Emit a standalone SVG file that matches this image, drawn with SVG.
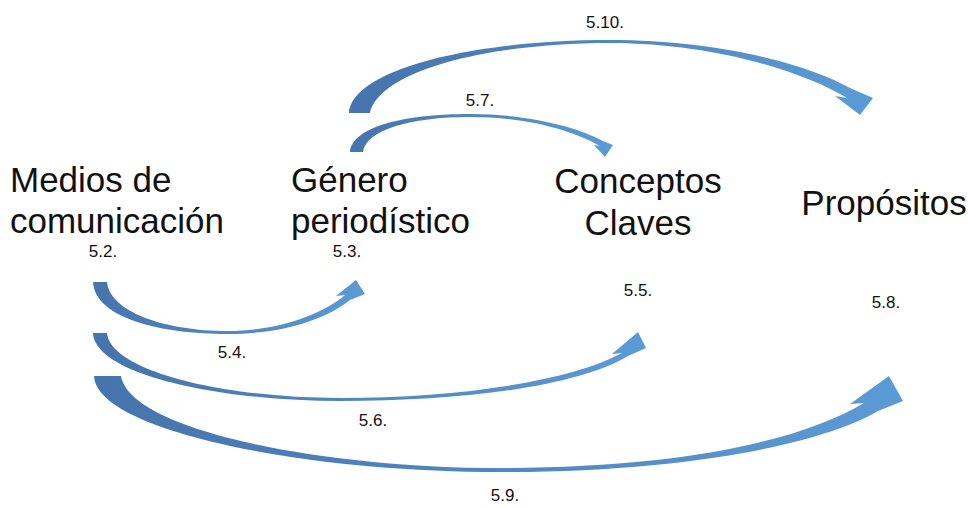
<svg xmlns="http://www.w3.org/2000/svg" width="968" height="508" viewBox="0 0 968 508">
<style>
.big{font-family:"Liberation Sans",Arial,sans-serif;font-size:35px;fill:#111}
.num{font-family:"Liberation Sans",Arial,sans-serif;font-size:17px;fill:#111;text-anchor:middle}
.arr{fill:url(#g)}
</style>
<defs>
<linearGradient id="g" x1="0" y1="0" x2="1" y2="0">
<stop offset="0" stop-color="#4674ac"/>
<stop offset="1" stop-color="#5b9bd5"/>
</linearGradient>
</defs>
<rect width="968" height="508" fill="#fff"/>
<g id="connectors">
<path id="a54" class="arr" d="M 93 282 C 95 318, 160 334, 228 334 C 285 334, 328 318, 350 300 L 365 294 L 356 280 L 336 296 L 345 295 C 320 316, 275 331, 228 331 C 165 331, 110 312, 107 282 Z"/>
<path id="a56" class="arr" d="M 93 333 C 95 375, 220 401, 340 401 C 470 401, 580 385, 628 356 L 646 348 L 638 332 L 612 354 L 622 353 C 570 381, 460 398, 340 398 C 220 398, 110 370, 107 333 Z"/>
<path id="a59" class="arr" d="M 94 376 C 96 430, 300 472, 500 472 C 700 472, 830 440, 878 411 L 903 401 L 889 376 L 850 404 L 864 403 C 800 441, 680 468, 500 468 C 320 468, 130 430, 121 376 Z"/>
<path id="a57" class="arr" d="M 350 152 C 352 128, 400 114, 470 114 C 530 114, 580 128, 603 141 L 613 145 L 605 157 L 594 145 L 600 146 C 575 132, 530 117, 470 117 C 410 117, 366 130, 363 152 Z"/>
<path id="a510" class="arr" d="M 349 113 C 352 70, 470 40, 610 40 C 720 40, 810 65, 850 88 L 873 98 L 860 115 L 835 96 L 847 98 C 800 70, 710 43, 610 43 C 490 43, 380 70, 370 113 Z"/>
</g>
<g id="medios">
<text class="big" x="10" y="192">Medios de</text>
<text class="big" x="10" y="233">comunicación</text>
<text class="num" x="103" y="257">5.2.</text>
</g>
<g id="genero">
<text class="big" x="291" y="192">Género</text>
<text class="big" x="291" y="233">periodístico</text>
<text class="num" x="347" y="257">5.3.</text>
</g>
<g id="conceptos">
<text class="big" x="638" y="193" text-anchor="middle">Conceptos</text>
<text class="big" x="638" y="235" text-anchor="middle">Claves</text>
<text class="num" x="638" y="296">5.5.</text>
</g>
<g id="propositos">
<text class="big" x="884" y="215" text-anchor="middle">Propósitos</text>
<text class="num" x="886" y="308">5.8.</text>
</g>
<g id="labels">
<text class="num" x="605" y="28">5.10.</text>
<text class="num" x="480" y="106">5.7.</text>
<text class="num" x="232" y="358">5.4.</text>
<text class="num" x="373" y="426">5.6.</text>
<text class="num" x="505" y="501">5.9.</text>
</g>
</svg>
